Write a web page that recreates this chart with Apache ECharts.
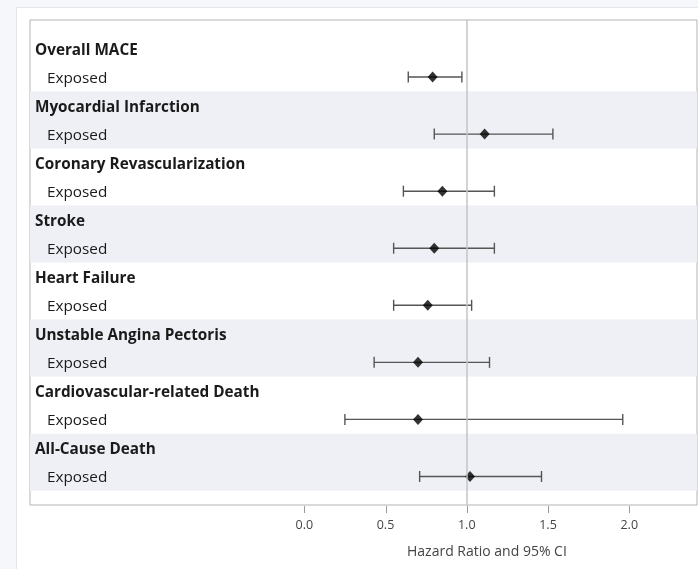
<!DOCTYPE html>
<html>
<head>
<meta charset="utf-8">
<script src="https://cdn.jsdelivr.net/npm/echarts@6/dist/echarts.min.js"></script>
<style>
  html, body { margin: 0; padding: 0; width: 698px; height: 569px; background: #f5f7fa; overflow: hidden; }
  #panel { position: absolute; left: 16px; top: 7px; width: 700px; height: 600px; background: #ffffff; border: 1px solid #e3e6eb; }
  #chart { position: absolute; left: 0; top: 0; width: 698px; height: 569px; }
</style>
</head>
<body>
<div id="panel"></div>
<div id="chart"></div>
<script>
const categories = ["Overall MACE", "Myocardial Infarction", "Coronary Revascularization", "Stroke", "Heart Failure", "Unstable Angina Pectoris", "Cardiovascular-related Death", "All-Cause Death"];
const subLabel = "Exposed";
const hazardRatio = [0.79, 1.11, 0.85, 0.80, 0.76, 0.70, 0.70, 1.02];
const lowerCI = [0.64, 0.80, 0.61, 0.55, 0.55, 0.43, 0.25, 0.71];
const upperCI = [0.97, 1.53, 1.17, 1.17, 1.03, 1.14, 1.96, 1.46];
const xTicks = [0, 0.5, 1, 1.5, 2];
const refValue = 1;
const axisTitle = "Hazard Ratio and 95% CI";

const FONT = "Open Sans";
const xMin = -1.688, xMax = 2.417;
const nRows = categories.length * 2;
const rowValues = [];
for (let i = 0; i < nRows; i++) rowValues.push(i);

const pointData = hazardRatio.map((v, i) => [v, 2 * i + 1]);
const errData = lowerCI.map((lo, i) => [lo, upperCI[i], 2 * i + 1]);
const bandData = [];
for (let g = 1; g < categories.length; g += 2) bandData.push([g]);
const tickData = xTicks.map(v => [v, 0]);

const chart = echarts.init(document.getElementById('chart'), null, { renderer: 'canvas' });
const option = {
  backgroundColor: 'transparent',
  animation: false,
  grid: [
    { left: 30, right: 1, top: 20, bottom: 64, show: true, borderColor: '#b3b3b3', borderWidth: 1, backgroundColor: 'transparent' },
    { left: 30, right: 1, top: 506, height: 7, show: false }
  ],
  xAxis: [
    {
      gridIndex: 0, type: 'value', min: xMin, max: xMax, position: 'bottom',
      axisLine: { show: false, onZero: false },
      splitLine: { show: false },
      axisTick: { show: false },
      axisLabel: { customValues: xTicks, formatter: v => v.toFixed(1), color: '#444', fontFamily: FONT, fontSize: 12.5, margin: 14 }
    },
    {
      gridIndex: 1, type: 'value', min: xMin, max: xMax,
      axisLine: { show: false, onZero: false }, splitLine: { show: false },
      axisTick: { show: false }, axisLabel: { show: false }
    }
  ],
  yAxis: [
    {
      gridIndex: 0, type: 'value', inverse: true, min: -1, max: nRows,
      axisLine: { show: false, onZero: false }, axisTick: { show: false }, splitLine: { show: false },
      axisLabel: {
        inside: true, margin: 5, customValues: rowValues,
        formatter: v => {
          const g = Math.floor(v / 2);
          return v % 2 === 0 ? '{h|' + categories[g] + '}' : '{e|' + subLabel + '}';
        },
        rich: {
          h: { fontFamily: FONT, fontWeight: 'bold', fontSize: 15.3, color: '#1a1a1a', padding: [4, 0, 0, 0] },
          e: { fontFamily: FONT, fontSize: 15.3, color: '#1a1a1a', padding: [3, 0, 0, 12] }
        }
      }
    },
    {
      gridIndex: 1, type: 'value', min: 0, max: 1,
      axisLine: { show: false, onZero: false }, axisTick: { show: false }, splitLine: { show: false }, axisLabel: { show: false }
    }
  ],
  series: [
    {
      type: 'custom', z: 0, silent: true,
      data: bandData,
      renderItem: (params, api) => {
        const g = api.value(0);
        const cs = params.coordSys;
        const top = api.coord([xMin, 2 * g - 0.5])[1];
        const bot = api.coord([xMin, 2 * g + 1.5])[1];
        return { type: 'rect', shape: { x: cs.x, y: top, width: cs.width, height: bot - top }, style: { fill: '#eef0f5' } };
      }
    },
    {
      type: 'custom', z: 3, silent: true,
      data: errData,
      renderItem: (params, api) => {
        const p1 = api.coord([api.value(0), api.value(2)]);
        const p2 = api.coord([api.value(1), api.value(2)]);
        const h = 5.5;
        const st = { stroke: '#555', lineWidth: 1.4 };
        return { type: 'group', children: [
          { type: 'line', shape: { x1: p1[0], y1: p1[1], x2: p2[0], y2: p2[1] }, style: st },
          { type: 'line', shape: { x1: p1[0], y1: p1[1] - h, x2: p1[0], y2: p1[1] + h }, style: st },
          { type: 'line', shape: { x1: p2[0], y1: p2[1] - h, x2: p2[0], y2: p2[1] + h }, style: st }
        ]};
      }
    },
    {
      type: 'custom', z: 5, silent: true, xAxisIndex: 1, yAxisIndex: 1,
      data: tickData,
      renderItem: (params, api) => {
        const cs = params.coordSys;
        const x = Math.round(api.coord([api.value(0), 0])[0]) + 0.5;
        return { type: 'line', shape: { x1: x, y1: cs.y, x2: x, y2: cs.y + cs.height }, style: { stroke: '#999999', lineWidth: 1 } };
      }
    },
    {
      type: 'scatter', z: 4, silent: true,
      data: pointData,
      symbol: 'diamond', symbolSize: [10, 11],
      itemStyle: { color: '#000' },
      markLine: {
        silent: true, symbol: ['none', 'none'], label: { show: false },
        lineStyle: { color: '#c4c4c4', width: 1.5, type: 'solid' },
        data: [{ xAxis: refValue }]
      }
    }
  ]
};
chart.setOption(option);
const mid = chart.convertToPixel({ xAxisIndex: 0 }, 1.124);
chart.setOption({
  graphic: [{
    type: 'text', x: mid, y: 552,
    style: { text: axisTitle, fontFamily: FONT, fontSize: 14, fill: '#444', align: 'center', verticalAlign: 'middle' }
  }]
});
</script>
</body>
</html>
